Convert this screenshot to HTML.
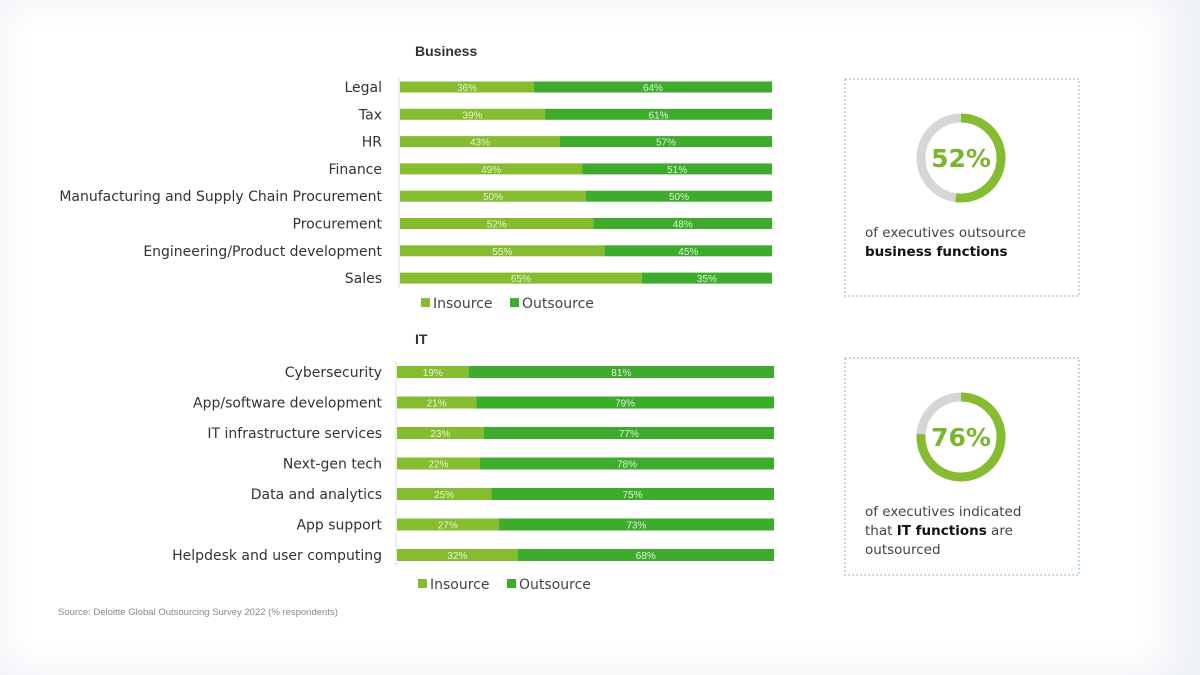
<!DOCTYPE html>
<html><head><meta charset="utf-8"><style>
body{margin:0;width:1200px;height:675px;background:#eef1f6;font-family:"Liberation Sans",sans-serif;overflow:hidden}
#card{position:absolute;left:30px;top:28px;width:1110px;height:615px;background:#fff;box-shadow:0 0 40px 30px #fff}
svg{position:absolute;left:0;top:0}
</style></head><body>
<div id="card"></div>
<svg id="c" width="1200" height="675"></svg>
<script>
const bizCats=["Legal","Tax","HR","Finance","Manufacturing and Supply Chain Procurement","Procurement","Engineering/Product development","Sales"];
const bizIn=[36,39,43,49,50,52,55,65];
const itCats=["Cybersecurity","App/software development","IT infrastructure services","Next-gen tech","Data and analytics","App support","Helpdesk and user computing"];
const itIn=[19,21,23,22,25,27,32];
const donutVals=[52,76];
const IN="#86bc2f",OUT="#3dab2c";
const s=document.getElementById('c'),NS="http://www.w3.org/2000/svg";
function el(t,a,txt){const e=document.createElementNS(NS,t);for(const k in a)e.setAttribute(k,a[k]);if(txt!=null)e.textContent=txt;s.appendChild(e);return e;}
const DJ='"DejaVu Sans", sans-serif';
function panel(title,ty,cats,vals,x0,x1,y0,step,bh,name,legOff){
  const t=el('text',{x:415,y:ty,'font-size':14,'font-weight':'bold',fill:'#333'},title);
  
  const xs=v=>x0+(x1-x0)*v/100;
  const ax=el('line',{x1:x0-1,x2:x0-1,y1:y0-step/2+4,y2:y0+step*(cats.length-1)+step/2-4,stroke:'#ddd'});
  
  cats.forEach((c,i)=>{const y=y0+i*step,v=vals[i];
    const l=el('text',{x:382,y:y+5,'text-anchor':'end','font-size':14,'font-family':DJ,fill:'#333'},c);
    
    const a=el('rect',{x:x0,y:y-bh/2,width:xs(v)-x0,height:bh,fill:IN});
    
    const b=el('rect',{x:xs(v),y:y-bh/2,width:x1-xs(v),height:bh,fill:OUT});
    
    const ta=el('text',{x:(x0+xs(v))/2,y:y+4,'text-anchor':'middle','font-size':10,fill:'#e8f3d6'},v+'%');
    
    const tb=el('text',{x:(xs(v)+x1)/2,y:y+4,'text-anchor':'middle','font-size':10,fill:'#e0f2dc'},(100-v)+'%');
    
  });
  const ly=y0+step*(cats.length-1)+legOff;
  [[IN,'Insource',x0+21],[OUT,'Outsource',x0+110]].forEach(([c,n,x])=>{
    const r=el('rect',{x:x,y:ly-10,width:9,height:9,fill:c});
    const t=el('text',{x:x+12,y:ly,'font-size':14,'font-family':DJ,fill:'#444'},n);
  });
}
panel('Business',56,bizCats,bizIn,400,772,87,27.3,11,'business',30);
panel('IT',344,itCats,itIn,397,774,372,30.5,12,'it',34);
function box(y,val,lines,name){
  const r=el('rect',{x:845,y:y,width:234,height:217,fill:'none',stroke:'#5cb85c','stroke-dasharray':'1.5 2.5','stroke-width':1});
  
  const cx=961,cy=y+79,R=40,C=2*Math.PI*R;
  const g=el('circle',{cx:cx,cy:cy,r:R,fill:'none',stroke:'#d6d6d6','stroke-width':9});
  
  const a=el('circle',{cx:cx,cy:cy,r:R,fill:'none',stroke:IN,'stroke-width':9,'stroke-dasharray':(C*val/100)+' '+C,transform:`rotate(-90 ${cx} ${cy})`});
  
  const t=el('text',{x:cx,y:cy+9,'text-anchor':'middle','font-size':25,'font-weight':'bold','font-family':DJ,fill:'#7ab52e'},val+'%');
  
  lines.forEach((ln,i)=>{const tx=el('text',{x:865,y:y+158+i*19,'font-size':13.5,'font-family':DJ,fill:'#444'});
    
    ln.forEach(([txt,b])=>{const sp=document.createElementNS(NS,'tspan');sp.textContent=txt;if(b){sp.setAttribute('font-weight','bold');sp.setAttribute('fill','#111');}tx.appendChild(sp);});});
}
box(79,donutVals[0],[[["of executives outsource",0]],[["business functions",1]]],'business');
box(358,donutVals[1],[[["of executives indicated",0]],[["that ",0],["IT functions",1],[" are",0]],[["outsourced",0]]],'it');
const src=el('text',{x:58,y:615,'font-size':9.5,fill:'#888'},'Source: Deloitte Global Outsourcing Survey 2022 (% respondents)');

</script>
</body></html>
